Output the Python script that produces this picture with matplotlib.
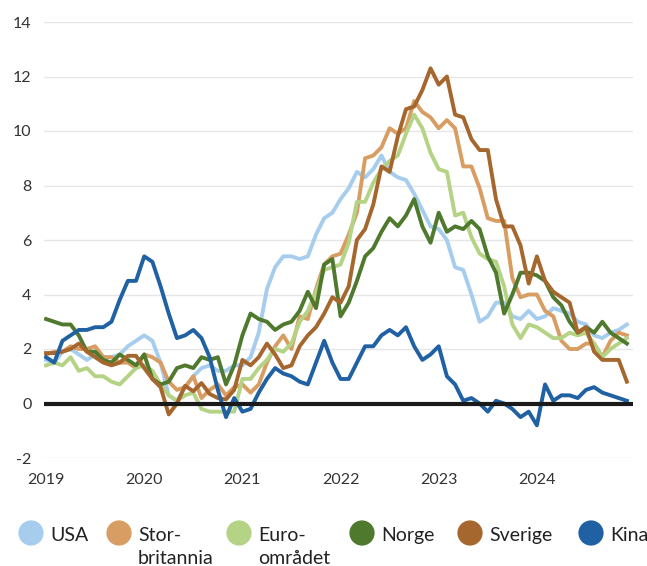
import numpy as np
import matplotlib

matplotlib.use('Agg')
import matplotlib.pyplot as plt

plt.rcParams['font.family'] = ['Lato', 'DejaVu Sans']
plt.rcParams['axes.unicode_minus'] = False

years = ['2019', '2020', '2021', '2022', '2023', '2024']
months = np.arange(72)

usa = [1.6, 1.5, 1.9, 2.0, 1.8, 1.6, 1.8, 1.7, 1.7, 1.8, 2.1, 2.3,
       2.5, 2.3, 1.5, 0.3, 0.1, 0.6, 1.0, 1.3, 1.4, 1.2, 1.2, 1.4,
       1.4, 1.7, 2.6, 4.2, 5.0, 5.4, 5.4, 5.3, 5.4, 6.2, 6.8, 7.0,
       7.5, 7.9, 8.5, 8.3, 8.6, 9.1, 8.5, 8.3, 8.2, 7.7, 7.1, 6.5,
       6.4, 6.0, 5.0, 4.9, 4.0, 3.0, 3.2, 3.7, 3.7, 3.2, 3.1, 3.4,
       3.1, 3.2, 3.5, 3.4, 3.3, 3.0, 2.9, 2.5, 2.4, 2.6, 2.7, 2.9]
storbritannia = [1.8, 1.9, 1.9, 2.1, 2.0, 2.0, 2.1, 1.7, 1.7, 1.5, 1.5, 1.3,
                 1.8, 1.7, 1.5, 0.8, 0.5, 0.6, 1.0, 0.2, 0.5, 0.7, 0.3, 0.6,
                 0.7, 0.4, 0.7, 1.5, 2.1, 2.5, 2.0, 3.2, 3.1, 4.2, 5.1, 5.4,
                 5.5, 6.2, 7.0, 9.0, 9.1, 9.4, 10.1, 9.9, 10.1, 11.1, 10.7, 10.5,
                 10.1, 10.4, 10.1, 8.7, 8.7, 7.9, 6.8, 6.7, 6.7, 4.6, 3.9, 4.0,
                 4.0, 3.4, 3.2, 2.3, 2.0, 2.0, 2.2, 2.2, 1.7, 2.3, 2.6, 2.5]
euro = [1.4, 1.5, 1.4, 1.7, 1.2, 1.3, 1.0, 1.0, 0.8, 0.7, 1.0, 1.3,
        1.4, 1.2, 0.7, 0.3, 0.1, 0.3, 0.4, -0.2, -0.3, -0.3, -0.3, -0.3,
        0.9, 0.9, 1.3, 1.6, 2.0, 1.9, 2.2, 3.0, 3.4, 4.1, 4.9, 5.0,
        5.1, 5.9, 7.4, 7.4, 8.1, 8.6, 8.9, 9.1, 9.9, 10.6, 10.1, 9.2,
        8.6, 8.5, 6.9, 7.0, 6.1, 5.5, 5.3, 5.2, 4.3, 2.9, 2.4, 2.9,
        2.8, 2.6, 2.4, 2.4, 2.6, 2.5, 2.6, 2.2, 1.7, 2.0, 2.2, 2.4]
norge = [3.1, 3.0, 2.9, 2.9, 2.5, 1.9, 1.9, 1.6, 1.5, 1.8, 1.6, 1.4,
         1.8, 0.9, 0.7, 0.8, 1.3, 1.4, 1.3, 1.7, 1.6, 1.7, 0.7, 1.4,
         2.5, 3.3, 3.1, 3.0, 2.7, 2.9, 3.0, 3.4, 4.1, 3.5, 5.1, 5.3,
         3.2, 3.7, 4.5, 5.4, 5.7, 6.3, 6.8, 6.5, 6.9, 7.5, 6.5, 5.9,
         7.0, 6.3, 6.5, 6.4, 6.7, 6.4, 5.4, 4.8, 3.3, 4.0, 4.8, 4.8,
         4.7, 4.5, 3.9, 3.6, 3.0, 2.6, 2.8, 2.6, 3.0, 2.6, 2.4, 2.2]
sverige = [1.85, 1.85, 1.9, 2.0, 2.2, 1.9, 1.7, 1.5, 1.4, 1.5, 1.75, 1.75,
           1.3, 0.9, 0.6, -0.4, 0.0, 0.65, 0.45, 0.75, 0.35, 0.2, 0.15, 0.5,
           1.6, 1.4, 1.7, 2.2, 1.8, 1.3, 1.4, 2.1, 2.5, 2.8, 3.3, 3.9,
           3.7, 4.3, 6.0, 6.4, 7.3, 8.7, 8.5, 9.8, 10.8, 10.9, 11.5, 12.3,
           11.7, 12.0, 10.6, 10.5, 9.7, 9.3, 9.3, 7.5, 6.5, 6.5, 5.8, 4.4,
           5.4, 4.5, 4.1, 3.9, 3.7, 2.6, 2.8, 1.9, 1.6, 1.6, 1.6, 0.8]
kina = [1.7, 1.5, 2.3, 2.5, 2.7, 2.7, 2.8, 2.8, 3.0, 3.8, 4.5, 4.5,
        5.4, 5.2, 4.3, 3.3, 2.4, 2.5, 2.7, 2.4, 1.7, 0.5, -0.5, 0.2,
        -0.3, -0.2, 0.4, 0.9, 1.3, 1.1, 1.0, 0.8, 0.7, 1.5, 2.3, 1.5,
        0.9, 0.9, 1.5, 2.1, 2.1, 2.5, 2.7, 2.5, 2.8, 2.1, 1.6, 1.8,
        2.1, 1.0, 0.7, 0.1, 0.2, 0.0, -0.3, 0.1, 0.0, -0.2, -0.5, -0.3,
        -0.8, 0.7, 0.1, 0.3, 0.3, 0.2, 0.5, 0.6, 0.4, 0.3, 0.2, 0.1]

series = [usa, storbritannia, euro, norge, sverige, kina]
labels = [['USA'], ['Stor-', 'britannia'], ['Euro-', 'området'],
          ['Norge'], ['Sverige'], ['Kina']]
palette = ['#a6cdee', '#d89d62', '#b4d385', '#4f792d', '#a5672d', '#1f61a3']

fig = plt.figure(figsize=(6.47, 5.66), dpi=100)
ax = fig.add_axes([44 / 647, 1 - 458 / 566, 589 / 647, 436 / 566])

for vals, c in zip(series, palette):
    ax.plot(months, vals, color=c, lw=2.8, zorder=3)

ax.axhline(0, color='#1a1a1a', lw=3, zorder=4)

ax.set_ylim(-2, 14)
ax.set_xlim(-0.25, 71.75)
ax.set_yticks(range(-2, 15, 2))
ax.set_xticks(range(0, 72, 12))
ax.set_xticklabels(years)
ax.grid(axis='y', color='#e6e6e6', lw=1.0, zorder=0)
ax.tick_params(axis='both', length=0, labelsize=11.5, colors='#333333')
ax.tick_params(axis='y', pad=9)
ax.tick_params(axis='x', pad=11)
for s in ax.spines.values():
    s.set_visible(False)

# legend drawn by hand so the circle sits next to the first line
lax = fig.add_axes([0, 0, 1, 1])
lax.set_xlim(0, 647)
lax.set_ylim(566, 0)
lax.axis('off')
circle_x = [31, 119, 239, 362, 470, 591]
for cx, c, lab in zip(circle_x, palette, labels):
    lax.scatter([cx], [533], s=330, color=c, edgecolors='none')
    for k, line in enumerate(lab):
        lax.text(cx + 19, 541 + 23 * k, line, fontsize=14, color='#222222',
                 va='baseline', ha='left')

fig.savefig('out.png', dpi=100)
